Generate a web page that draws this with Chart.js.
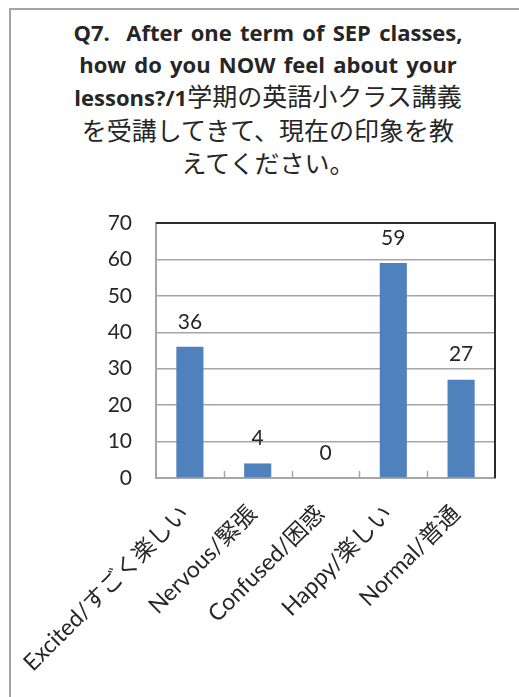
<!DOCTYPE html>
<html>
<head>
<meta charset="utf-8">
<script src="https://cdn.jsdelivr.net/npm/chart.js"></script>
<style>
  body { margin: 0; background: #fff; width: 519px; height: 697px; overflow: hidden; position: relative; }
  #frame { position: absolute; left: 9px; top: 8px; width: 540px; height: 720px; border: 2px solid #a3a3a3; }
  #title { position: absolute; left: 11px; top: 17px; width: 514px; text-align: center;
    font-family: "Open Sans", "Noto Sans CJK JP", sans-serif; font-weight: bold; font-size: 22px;
    line-height: 31.5px; word-spacing: 2.5px; color: #262626; }
  #title .jp { font-family: "Noto Sans CJK JP", sans-serif; font-weight: normal; font-size: 25px; word-spacing: 0; }
  #wrap { position: absolute; left: 0; top: 0; width: 519px; height: 697px; }
</style>
</head>
<body>
<div id="frame"></div>
<div id="title">Q7.&nbsp; After one term of SEP classes,<br>how do you NOW feel about your<br>lessons?/1<span class="jp">学期の英語小クラス講義</span><br><span class="jp">を受講してきて、現在の印象を教</span><br><span class="jp">えてください。</span></div>
<div id="wrap"><canvas id="myChart"></canvas></div>
<script>
const categories = ['Excited/すごく楽しい', 'Nervous/緊張', 'Confused/困惑', 'Happy/楽しい', 'Normal/普通'];
const counts = [36, 4, 0, 59, 27];
const yTicks = [0, 10, 20, 30, 40, 50, 60, 70];

const font = 'Lato, "Noto Sans CJK JP", sans-serif';

// value labels over the bars
const barLabels = {
  id: 'barLabels',
  afterDatasetsDraw(chart) {
    const ctx = chart.ctx;
    const meta = chart.getDatasetMeta(0);
    ctx.save();
    ctx.font = '21px ' + font;
    ctx.fillStyle = '#262626';
    ctx.textAlign = 'center';
    ctx.textBaseline = 'middle';
    meta.data.forEach((bar, i) => {
      ctx.fillText(String(counts[i]), bar.x, bar.y - 25);
    });
    ctx.restore();
  }
};

// plot area border on top/right and small inner ticks on the category axis
const plotFrame = {
  id: 'plotFrame',
  afterDraw(chart) {
    const ctx = chart.ctx;
    const a = chart.chartArea;
    ctx.save();
    ctx.strokeStyle = '#2b2b2b';
    ctx.lineWidth = 2;
    ctx.beginPath();
    ctx.moveTo(a.left, a.top);
    ctx.lineTo(a.right, a.top);
    ctx.lineTo(a.right, a.bottom);
    ctx.stroke();
    ctx.strokeStyle = '#a6a6a6';
    ctx.lineWidth = 1.5;
    const step = (a.right - a.left) / categories.length;
    for (let i = 1; i < categories.length; i++) {
      const px = Math.round(a.left + step * i) + 0.5;
      ctx.beginPath();
      ctx.moveTo(px, a.bottom);
      ctx.lineTo(px, a.bottom - 7);
      ctx.stroke();
    }
    ctx.restore();
  }
};

let myChart = document.getElementById('myChart');

new Chart(myChart, {
  type: 'bar',
  data: {
    labels: categories,
    datasets: [{
      data: counts,
      backgroundColor: '#4f81bd',
      barPercentage: 0.4,
      categoryPercentage: 1
    }]
  },
  options: {
    responsive: true,
    maintainAspectRatio: false,
    animation: false,
    layout: { padding: { top: 223, left: 20, right: 24, bottom: 0 } },
    plugins: { legend: { display: false }, tooltip: { enabled: false } },
    scales: {
      x: {
        afterFit: s => { s.height = 697 - 478; },
        grid: { display: false },
        border: { display: true, color: '#a6a6a6', width: 2 },
        ticks: {
          minRotation: 45, maxRotation: 45, autoSkip: false, padding: 14, labelOffset: -5,
          color: '#262626', font: { family: font, size: 23 }
        }
      },
      y: {
        min: 0, max: 70,
        afterFit: s => { s.width = 156 - 20; },
        afterBuildTicks: s => { s.ticks = yTicks.map(v => ({ value: v })); },
        grid: { color: '#a6a6a6', lineWidth: 1.5, drawTicks: false },
        border: { display: true, color: '#a6a6a6', width: 2 },
        ticks: { padding: 24, color: '#262626', font: { family: font, size: 21 } }
      }
    }
  },
  plugins: [barLabels, plotFrame]
});
</script>
</body>
</html>
